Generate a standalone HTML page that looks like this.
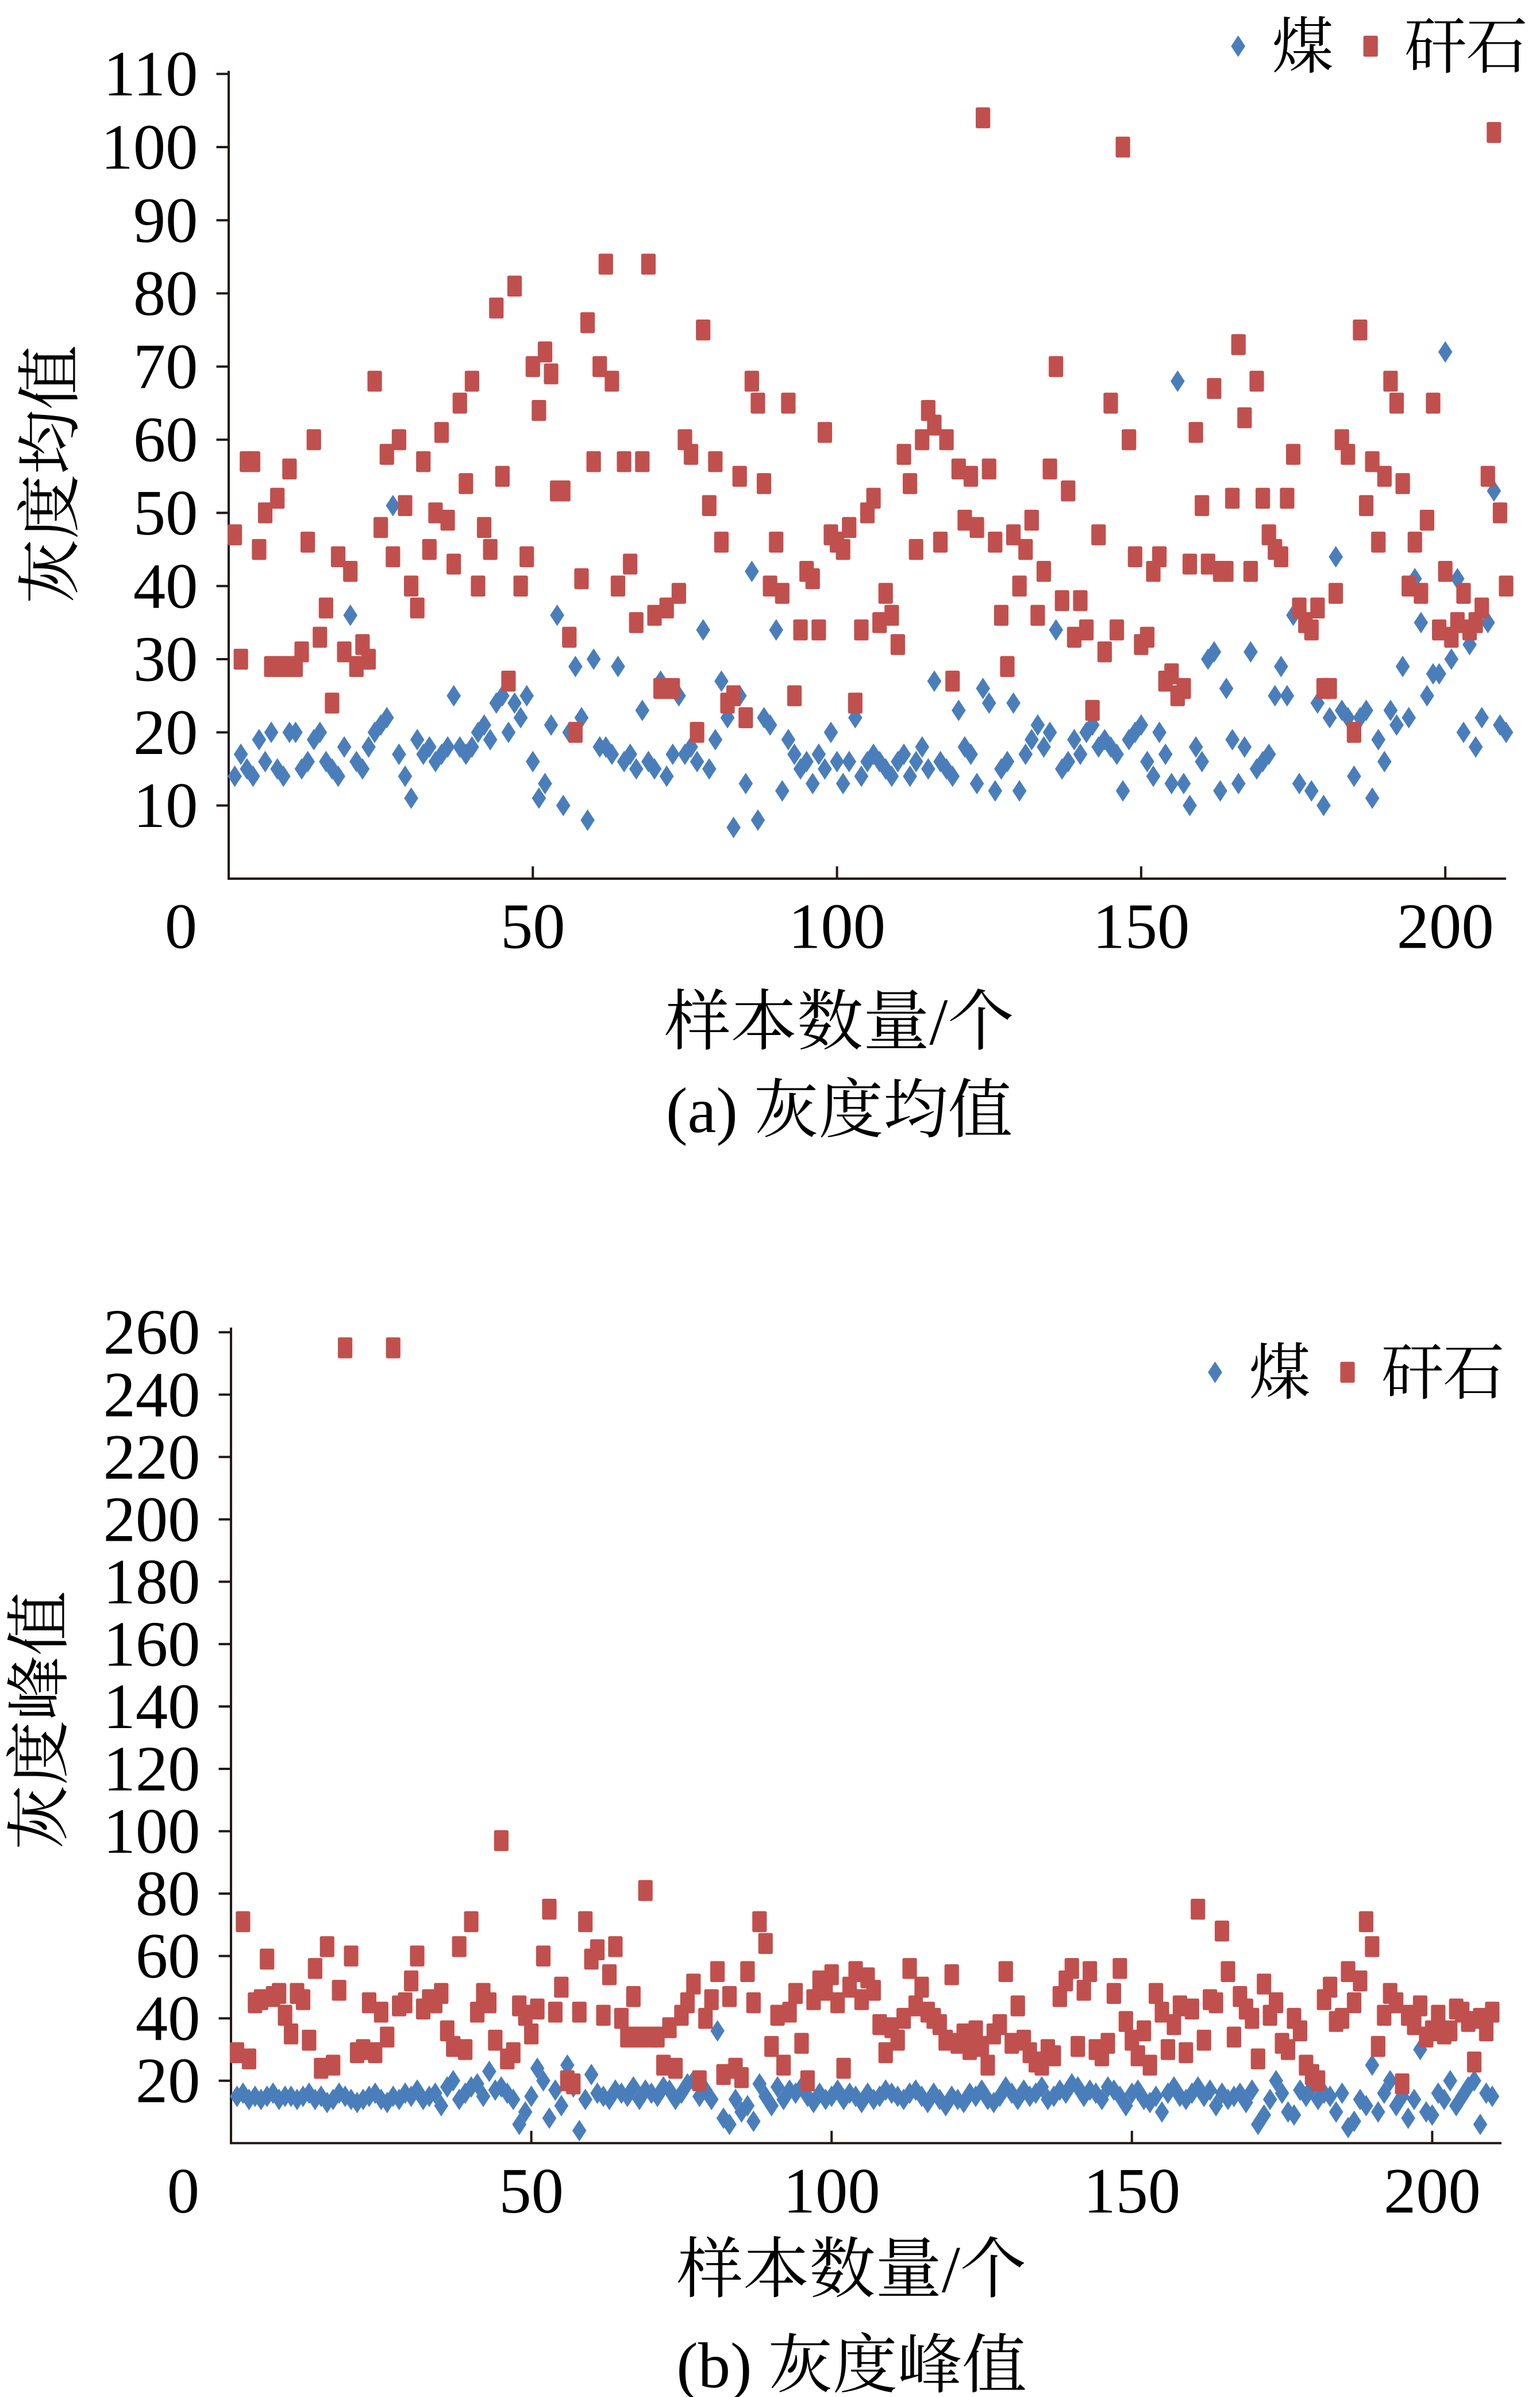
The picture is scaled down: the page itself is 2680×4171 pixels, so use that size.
<!DOCTYPE html>
<html><head><meta charset="utf-8">
<style>
html,body{margin:0;padding:0;background:#fff;}
svg{display:block;}
text{font-family:"Liberation Serif","Noto Serif CJK SC",serif;fill:#000;}
</style></head>
<body>
<svg id="root" width="2680" height="4171" viewBox="0 0 1000 1556.34" xmlns="http://www.w3.org/2000/svg">
<g id="chartA"></g>
<g id="chartB"></g>
</svg>
<script>
const sampleCount = 210;
const aCoal = [14,17,15,14,19,16,20,15,14,20, 20,15,16,19,20,16,15,14,18,36, 16,15,18,20,21,22,51,17,14,11, 19,17,18,16,17,18,25,18,17,18, 20,21,19,24,25,20,24,22,25,16, 11,13,21,36,10,20,29,22,8,30, 18,18,17,29,16,17,15,23,16,15, 27,14,17,25,17,18,16,34,15,19, 27,22,7,25,13,42,8,22,21,34, 12,19,17,15,16,13,17,15,20,16, 13,16,22,14,16,17,16,15,14,16, 17,14,16,18,15,27,16,15,14,23, 18,17,13,26,24,12,15,16,24,12, 17,19,21,18,20,34,15,16,19,17, 20,21,18,19,18,17,12,19,20,21, 16,14,20,17,13,68,13,10,18,16, 30,31,12,26,19,13,18,31,15,16, 17,25,29,25,36,13,35,12,24,10, 22,44,23,22,14,22,23,11,19,16, 23,21,29,22,41,35,25,28,28,72, 30,41,20,32,18,22,35,53,21,20];
const aGangue = [47,30,57,57,45,50,29,52,29,56, 29,31,46,60,33,37,24,44,31,42, 29,32,30,68,48,58,44,60,51,40, 37,57,45,50,61,49,43,65,54,68, 40,48,45,78,55,27,81,40,44,70, 64,72,69,53,53,33,20,41,76,57, 70,84,68,40,57,43,35,57,84,36, 26,37,26,39,60,58,20,75,51,57, 46,24,25,55,22,68,65,54,40,46, 39,65,25,34,42,41,34,61,47,46, 45,48,24,34,50,52,35,39,36,32, 58,54,45,60,64,62,46,60,27,56, 49,55,48,104,56,46,36,29,47,40, 45,49,36,42,56,70,38,53,33,38, 34,23,47,31,65,34,100,60,44,32, 33,42,44,27,28,25,26,43,61,51, 43,67,42,42,52,73,63,42,68,52, 47,45,44,52,58,37,35,34,37,26, 26,39,60,58,20,75,51,57,46,55, 68,65,54,40,46,39,49,65,34,42, 33,35,39,34,35,37,55,102,50,40];
const bCoal = [15,16,14,15,14,15,16,14,15,15, 14,15,16,14,15,13,14,16,15,14, 13,14,15,16,14,13,15,14,16,15, 17,14,15,16,12,18,20,14,16,18, 19,15,23,17,18,16,14,6,10,15, 24,20,8,17,12,25,18,4,14,22, 16,15,14,17,16,15,18,14,17,16, 15,18,17,14,16,19,20,15,17,14, 36,8,6,14,10,12,7,19,15,12, 18,14,17,16,18,15,13,16,14,15, 17,14,16,15,13,16,14,15,17,16, 15,14,16,17,15,13,16,14,12,15, 14,13,16,15,17,14,13,15,18,16, 14,17,15,16,18,14,15,17,16,19, 18,15,17,16,14,18,17,15,12,16, 17,14,13,15,10,16,18,15,14,16, 18,15,17,12,16,14,15,16,13,17, 6,9,14,20,16,10,9,17,15,18, 14,16,15,10,16,5,7,14,12,25, 10,16,20,12,15,8,14,30,10,9, 16,14,20,12,15,18,20,6,16,15];
const bGangue = [29,71,27,45,46,59,47,48,41,35, 48,46,33,56,24,63,25,49,255,60, 29,30,45,29,42,34,255,44,45,52, 60,43,46,45,48,36,31,63,30,71, 42,48,45,33,97,27,29,44,41,35, 43,60,75,42,50,20,19,42,71,59, 62,41,54,63,40,34,47,34,81,34, 34,25,37,24,41,45,51,20,40,46, 55,22,47,24,21,55,45,71,64,31, 41,25,42,48,32,20,46,52,49,54, 45,24,50,55,46,53,49,38,29,37, 33,40,56,44,50,42,40,38,33,54, 32,35,30,36,31,25,35,38,55,32, 44,33,29,26,25,30,28,47,52,56, 31,49,55,30,28,32,48,56,39,33, 28,36,25,48,42,30,38,44,29,43, 75,33,46,45,68,55,34,47,43,40, 27,51,41,45,32,30,40,36,25,22, 20,46,50,39,40,55,45,52,71,63, 31,41,48,45,19,41,38,44,34,36, 41,35,36,43,42,39,26,40,36,42];
const aYTicks = [10,20,30,40,50,60,70,80,90,100,110];
const bYTicks = [20,40,60,80,100,120,140,160,180,200,220,240,260];
const xTicks = [0,50,100,150,200];

const NS = "http://www.w3.org/2000/svg";
function mk(parent, tag, attrs, txt){
  const e = document.createElementNS(NS, tag);
  for (const k in attrs) e.setAttribute(k, attrs[k]);
  if (txt !== undefined) e.textContent = txt;
  parent.appendChild(e);
  return e;
}
function diamond(g, cx, cy){
  const p = mk(g, 'polygon', {points:`${cx},${cy-7} ${cx+4.6},${cy} ${cx},${cy+7} ${cx-4.6},${cy}`, fill:'#4a7ebb'});
  
  
}
function square(g, cx, cy){
  const r = mk(g, 'rect', {x:cx-4.7, y:cy-6.8, width:9.4, height:13.6, rx:1, fill:'#c0504d'});
  
  
}
function drawChart(g, cfg){
  const xS = v => cfg.x0 + v*cfg.xUnit;
  const yS = v => cfg.y0 - v*cfg.yUnit;
  cfg.yTicks.forEach(v=>{
    const t = mk(g,'text',{x:cfg.x0-20, y:yS(v)+14, 'text-anchor':'end','font-size':42}, String(v));
    
    
    mk(g,'line',{x1:cfg.x0-8,x2:cfg.x0,y1:yS(v),y2:yS(v),stroke:'#231815','stroke-width':1.5});
  });
  xTicks.forEach(v=>{
    const t = mk(g,'text',{x:xS(v)+(v===0?-31:0), y:cfg.y0+45, 'text-anchor':'middle','font-size':42}, String(v));
    
    
    if (v>0) mk(g,'line',{x1:xS(v),x2:xS(v),y1:cfg.y0-8,y2:cfg.y0,stroke:'#231815','stroke-width':1.5});
  });
  const ax = mk(g,'path',{d:`M${cfg.x0},${cfg.yTop} V${cfg.y0} H${cfg.xEnd}`,fill:'none',stroke:'#231815','stroke-width':1.5});
  
  
  const gc = mk(g,'g',{});  
  const gg = mk(g,'g',{});  
  for (let i=0;i<sampleCount;i++){
    square(gg, xS(i+1), yS(cfg.gangue[i]));
    diamond(gc, xS(i+1), yS(cfg.coal[i]));
  }
  const yt = mk(g,'text',{transform:`translate(${cfg.yTitleX},${cfg.yTitleY}) rotate(-90)`,'text-anchor':'middle','font-size':42}, cfg.yTitle);
   
  const xt = mk(g,'text',{x:cfg.xTitleX,y:cfg.xTitleY,'text-anchor':'middle','font-size':43}, '样本数量/个');
   
  const cp = mk(g,'text',{x:cfg.xTitleX,y:cfg.capY,'text-anchor':'middle','font-size':42}, cfg.caption);
   
  const lg = mk(g,'g',{});  
  const [lx,ly] = cfg.legend;
  diamond(lg, lx, ly);
  const l1 = mk(lg,'text',{x:lx+22,y:ly+14,'font-size':40},'煤');
   
  square(lg, lx+86, ly);
  const l2 = mk(lg,'text',{x:lx+108,y:ly+14,'font-size':40},'矸石');
   
}
drawChart(document.getElementById('chartA'),{
  x0:148.5, xUnit:3.95, xEnd:978, y0:570.5, yUnit:4.75, yTop:46,
  yTicks:aYTicks, coal:aCoal, gangue:aGangue,
  yTitle:'灰度均值', yTitleX:47, yTitleY:308, xTitleX:545, xTitleY:678, capY:735,
  caption:'(a) 灰度均值', legend:[804,30]
});
drawChart(document.getElementById('chartB'),{
  x0:150, xUnit:3.9, xEnd:975, y0:1391.5, yUnit:2.025, yTop:862,
  yTicks:bYTicks, coal:bCoal, gangue:bGangue,
  yTitle:'灰度峰值', yTitleX:40, yTitleY:1117, xTitleX:553, xTitleY:1488, capY:1550,
  caption:'(b)  灰度峰值', legend:[789,891]
});
</script>
</body></html>
